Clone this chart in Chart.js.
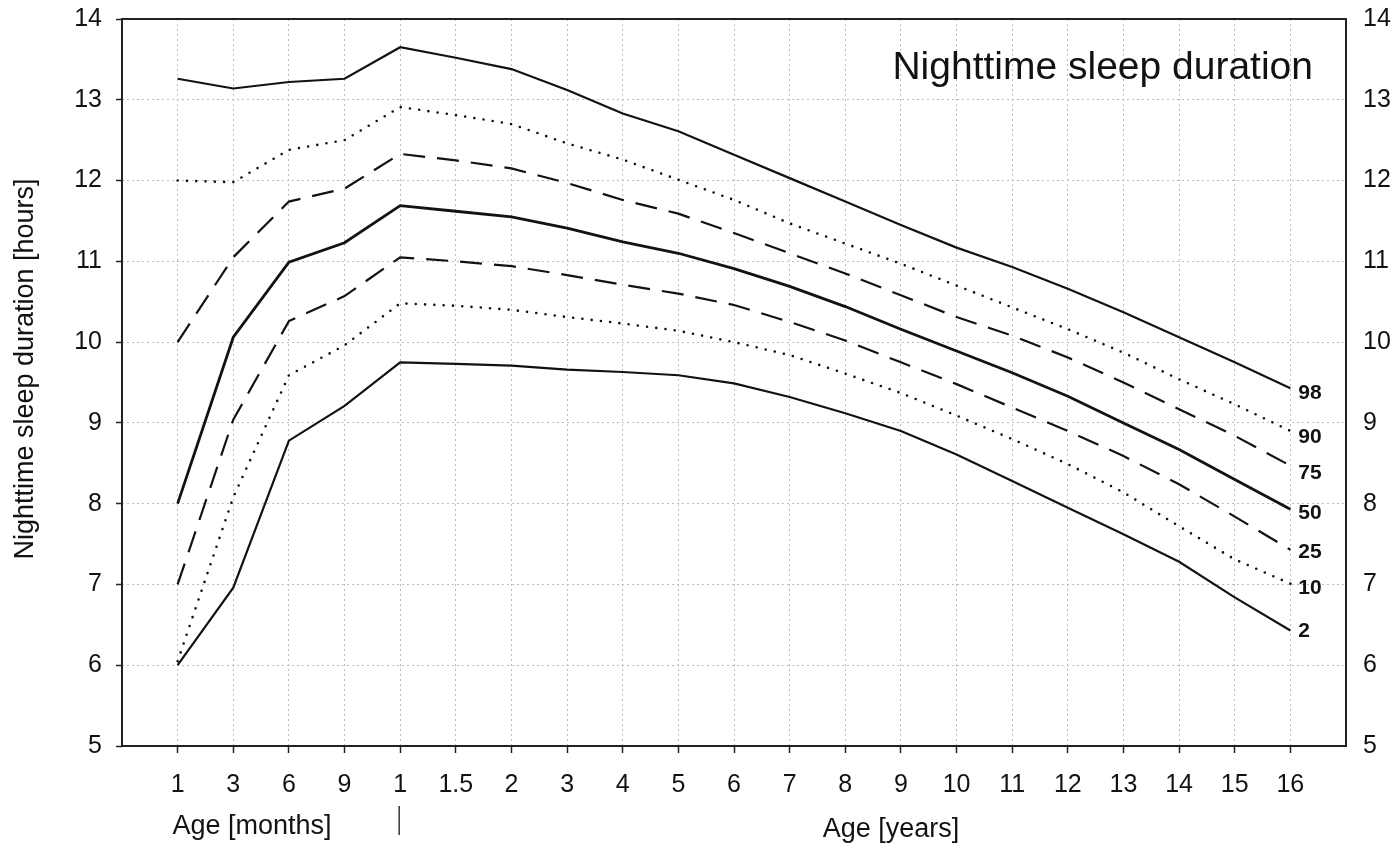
<!DOCTYPE html>
<html>
<head>
<meta charset="utf-8">
<script src="https://cdn.jsdelivr.net/npm/chart.js@4.4.1/dist/chart.umd.min.js"></script>
<style>
html,body{margin:0;padding:0;background:#fff;}
#wrap{width:1399px;height:844px;position:relative;}
</style>
</head>
<body>
<div id="wrap"><canvas id="c" width="1399" height="844"></canvas></div>
<script>
// ---- data ----
const ageLabels = ['1','3','6','9','1','1.5','2','3','4','5','6','7','8','9','10','11','12','13','14','15','16'];
const yTicks = [5,6,7,8,9,10,11,12,13,14];
const percentileNames = ['98','90','75','50','25','10','2'];
const p98 = [13.26,13.14,13.22,13.26,13.65,13.52,13.38,13.12,12.83,12.61,12.32,12.03,11.74,11.45,11.17,10.93,10.66,10.37,10.06,9.75,9.43];
const p90 = [12.00,11.98,12.38,12.50,12.91,12.81,12.70,12.46,12.26,12.01,11.76,11.47,11.22,10.97,10.70,10.43,10.16,9.87,9.54,9.23,8.90];
const p75 = [10.00,11.05,11.74,11.90,12.33,12.25,12.15,11.97,11.76,11.59,11.35,11.10,10.85,10.58,10.31,10.08,9.81,9.50,9.17,8.84,8.47];
const p50 = [8.00,10.06,10.99,11.23,11.69,11.62,11.55,11.41,11.24,11.10,10.91,10.69,10.44,10.16,9.89,9.62,9.33,9.00,8.67,8.30,7.93];
const p25 = [7.00,9.04,10.26,10.57,11.05,11.00,10.94,10.83,10.71,10.60,10.46,10.25,10.02,9.75,9.48,9.19,8.90,8.59,8.24,7.84,7.43];
const p10 = [6.05,8.08,9.59,9.96,10.48,10.45,10.40,10.31,10.23,10.14,10.00,9.84,9.61,9.37,9.09,8.80,8.49,8.14,7.72,7.31,7.01];
const p2  = [6.00,6.96,8.78,9.21,9.75,9.73,9.71,9.66,9.63,9.59,9.49,9.32,9.12,8.90,8.61,8.28,7.95,7.62,7.28,6.84,6.43];
const chartTitle = 'Nighttime sleep duration';
const yTitle = 'Nighttime sleep duration [hours]';
const xTitleMonths = 'Age [months]';
const xTitleYears = 'Age [years]';

// ---- styles ----
const FONT = '"Liberation Sans", Arial, Helvetica, sans-serif';
const INK = '#121212';
const GRID = '#bcbcbc';
const solid = [];
const dashed = [22, 12];
const dotted = [0, 9.3];
const seriesValues = [p98, p90, p75, p50, p25, p10, p2];
const seriesDash = [solid, dotted, dashed, solid, dashed, dotted, solid];
const seriesWidth = [2.2, 2.6, 2.2, 2.8, 2.2, 2.6, 2.2];
const labelNudge = [5, 6, 8, 4, 2, 5, 1];

const datasets = seriesValues.map((vals, k) => ({
  label: percentileNames[k],
  data: vals.map((v, i) => ({x: i, y: v})),
  borderColor: INK,
  borderWidth: seriesWidth[k],
  borderDash: seriesDash[k],
  borderCapStyle: seriesDash[k] === dotted ? 'round' : 'butt',
  borderJoinStyle: 'miter',
  pointRadius: 0,
  tension: 0,
  fill: false,
  yAxisID: 'y'
}));

const noOverflow = s => { s.paddingTop = 0; s.paddingBottom = 0; s.paddingLeft = 0; s.paddingRight = 0; };

const decor = {
  id: 'decor',
  afterDatasetsDraw(chart) {
    const ctx = chart.ctx;
    const a = chart.chartArea;
    ctx.save();
    // frame
    ctx.strokeStyle = '#222';
    ctx.lineWidth = 2;
    ctx.setLineDash([]);
    ctx.strokeRect(a.left, a.top, a.right - a.left, a.bottom - a.top);
    // title
    ctx.fillStyle = INK;
    ctx.font = '39px ' + FONT;
    ctx.textAlign = 'right';
    ctx.textBaseline = 'alphabetic';
    ctx.fillText(chartTitle, a.right - 33, 79);
    // end labels
    ctx.font = 'bold 21px ' + FONT;
    ctx.textAlign = 'left';
    ctx.textBaseline = 'middle';
    chart.data.datasets.forEach((ds, k) => {
      const meta = chart.getDatasetMeta(k);
      const pt = meta.data[meta.data.length - 1];
      ctx.fillText(ds.label, pt.x + 8, pt.y + labelNudge[k]);
    });
    ctx.restore();
  },
  afterDraw(chart) {
    const ctx = chart.ctx;
    const xs = chart.scales.x;
    ctx.save();
    ctx.fillStyle = INK;
    // y title
    ctx.font = '27px ' + FONT;
    ctx.textAlign = 'center';
    ctx.textBaseline = 'alphabetic';
    ctx.save();
    ctx.translate(33, 369);
    ctx.rotate(-Math.PI / 2);
    ctx.fillText(yTitle, 0, 0);
    ctx.restore();
    // x titles
    ctx.font = '27px ' + FONT;
    ctx.textAlign = 'center';
    ctx.fillText(xTitleMonths, 252, 834);
    ctx.fillText(xTitleYears, 891, 837);
    // separator
    const sx = xs.getPixelForValue(4) - 1;
    ctx.strokeStyle = '#333';
    ctx.lineWidth = 1.5;
    ctx.beginPath();
    ctx.moveTo(sx, 806);
    ctx.lineTo(sx, 835);
    ctx.stroke();
    ctx.restore();
  }
};

new Chart(document.getElementById('c'), {
  type: 'line',
  data: { datasets },
  options: {
    responsive: false,
    animation: false,
    devicePixelRatio: 1,
    layout: { padding: { top: 19, left: 0, right: 0, bottom: 0 } },
    plugins: { legend: { display: false }, tooltip: { enabled: false }, title: { display: false } },
    scales: {
      x: {
        type: 'linear', position: 'bottom', min: -1, max: 21,
        afterBuildTicks: s => { s.ticks = ageLabels.map((_, i) => ({ value: i })); },
        afterFit: s => { s.height = 98; noOverflow(s); },
        ticks: { autoSkip: false, maxRotation: 0, padding: 17, color: INK,
                 font: { size: 25, family: FONT }, callback: v => ageLabels[v] },
        grid: { color: GRID, lineWidth: 1, tickLength: 7, tickColor: '#222', tickWidth: 1.5 },
        border: { display: false, dash: [2, 3] }
      },
      y: {
        type: 'linear', position: 'left', min: 5, max: 14,
        afterBuildTicks: s => { s.ticks = yTicks.map(v => ({ value: v })); },
        afterFit: s => { s.width = 122; noOverflow(s); },
        ticks: { padding: 14, color: INK, font: { size: 25, family: FONT } },
        grid: { color: GRID, lineWidth: 1, tickLength: 6, tickColor: '#222', tickWidth: 1.5 },
        border: { display: false, dash: [2, 3] }
      },
      yR: {
        type: 'linear', position: 'right', min: 5, max: 14,
        afterBuildTicks: s => { s.ticks = yTicks.map(v => ({ value: v })); },
        afterFit: s => { s.width = 53; noOverflow(s); },
        ticks: { padding: 17, color: INK, font: { size: 25, family: FONT } },
        grid: { drawOnChartArea: false, drawTicks: false },
        border: { display: false }
      }
    }
  },
  plugins: [decor]
});
</script>
</body>
</html>
